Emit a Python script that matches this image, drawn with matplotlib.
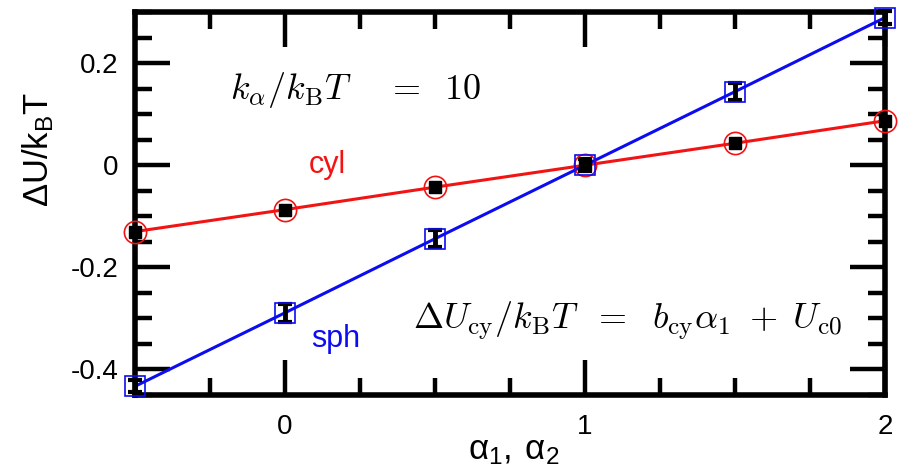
import numpy as np
import matplotlib
matplotlib.use("Agg")
import matplotlib.pyplot as plt
from matplotlib.ticker import MultipleLocator

plt.rcParams['font.family'] = ['Liberation Sans', 'DejaVu Sans']

# energy difference vs. shape parameter, cylinder and sphere
alpha = [-0.5, 0.0, 0.5, 1.0, 1.5, 2.0]
u_cyl = [-0.130, -0.087, -0.043, 0.0, 0.043, 0.087]
u_sph = [-0.433, -0.289, -0.144, 0.0, 0.144, 0.289]
err_cyl = [0.004, 0.004, 0.004, 0.004, 0.004, 0.004]
err_sph = [0.012, 0.018, 0.017, 0.012, 0.017, 0.012]

red = '#f21414'
blue = '#0c0cf0'

fig = plt.figure(figsize=(8.98, 4.72), dpi=100)
ax = fig.add_axes([0.1503, 0.1631, 0.8352, 0.8115])

# fitted lines
ax.plot(alpha, u_cyl, color=red, lw=2.2, zorder=2, clip_on=False)
ax.plot(alpha, u_sph, color=blue, lw=2.2, zorder=2, clip_on=False)

# simulation points with error bars
ax.errorbar(alpha, u_cyl, yerr=err_cyl, fmt='s', color='black', ms=8,
            elinewidth=3, capsize=4, capthick=3, zorder=3, clip_on=False)
ax.errorbar(alpha, u_sph, yerr=err_sph, fmt='none', ecolor='black',
            elinewidth=3.5, capsize=5, capthick=3, zorder=3, clip_on=False)

# open symbols
ax.plot(alpha, u_cyl, 'o', ms=16, mfc='none', mec=red, mew=1.2, zorder=4, clip_on=False)
ax.plot(alpha, u_sph, 's', ms=15, mfc='none', mec=blue, mew=1.2, zorder=4, clip_on=False)

ax.set_xlim(-0.5, 2.0)
ax.set_ylim(-0.45, 0.3)
ax.xaxis.set_major_locator(MultipleLocator(1))
ax.xaxis.set_minor_locator(MultipleLocator(0.25))
ax.yaxis.set_major_locator(MultipleLocator(0.2))
ax.yaxis.set_minor_locator(MultipleLocator(0.05))
ax.set_xticks([0, 1, 2])
ax.set_xticklabels(['0', '1', '2'])
ax.set_yticks([-0.4, -0.2, 0, 0.2])
ax.set_yticklabels(['-0.4', '-0.2', '0', '0.2'])

ax.tick_params(which='both', direction='in', top=True, right=True, width=3.2)
ax.tick_params(which='major', length=25, labelsize=20, pad=12)
ax.tick_params(axis='x', which='major', pad=14)
ax.tick_params(which='minor', length=12)
for s in ax.spines.values():
    s.set_linewidth(4)

ax.set_xlabel(r'$\mathregular{α_1,\,α_2}$', fontsize=25, va='center')
ax.set_ylabel(r'$\mathregular{ΔU/k_B T}$', fontsize=25)
ax.xaxis.set_label_coords(0.505, -0.145)
ax.yaxis.set_label_coords(-0.105, 0.64)

ax.text(-0.183, 0.148, r'$k_\alpha/k_{\rm B}T\quad\;=\;\;10$', fontsize=26,
        math_fontfamily='cm', ha='left', va='center')
ax.text(0.427, -0.305,
        r'$\Delta U_{\rm cy}/k_{\rm B}T\;\ =\;\ b_{\rm cy}\alpha_1\ +\;U_{\rm c0}$',
        fontsize=26, math_fontfamily='cm', ha='left', va='center')
ax.text(0.14, 0.0, 'cyl', color=red, fontsize=22, ha='center', va='center')
ax.text(0.17, -0.34, 'sph', color=blue, fontsize=22, ha='center', va='center')

fig.savefig('out.png', dpi=100)
